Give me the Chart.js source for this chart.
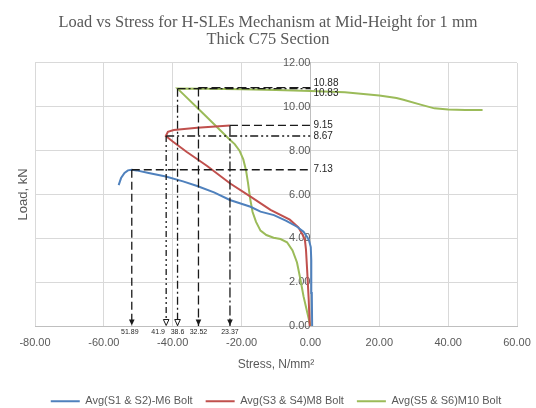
<!DOCTYPE html>
<html><head><meta charset="utf-8">
<script src="https://cdn.jsdelivr.net/npm/chart.js@4"></script>
<style>html,body{margin:0;padding:0;background:#fff}</style>
</head><body>
<canvas id="c" width="536" height="408"></canvas>
<script>
// ---- data ----
const titleLines = ['Load vs Stress for H-SLEs Mechanism at Mid-Height for 1 mm', 'Thick C75 Section'];
const seriesNames = ['Avg(S1 & S2)-M6 Bolt', 'Avg(S3 & S4)M8 Bolt', 'Avg(S5 & S6)M10 Bolt'];
const xAxisTitle = 'Stress, N/mm²';
const yAxisTitle = 'Load, kN';

const stressM6 = [0.5, 0.4, 0.25, 0.1, -0.4, -0.9, -2.0, -3.9, -7.0, -10.6, -14.5, -17.4, -20.5, -23.4, -28.0, -32.9, -37.0, -42.0, -47.0, -50.5, -51.89, -53.0, -54.0, -55.0, -55.7];
const loadM6   = [0, 1.5, 3.0, 3.6, 3.9, 4.05, 4.3, 4.53, 4.8, 5.06, 5.22, 5.44, 5.6, 5.75, 6.1, 6.39, 6.6, 6.82, 6.98, 7.1, 7.13, 7.1, 6.98, 6.75, 6.43];

const stressM8 = [-0.2, -0.5, -0.9, -1.3, -1.6, -2.4, -3.5, -6.0, -11.6, -17.4, -23.3, -30.0, -36.0, -40.0, -42.0, -41.4, -39.7, -32.9, -23.37];
const loadM8   = [0, 1.2, 2.4, 3.5, 3.92, 4.2, 4.5, 4.85, 5.3, 5.9, 6.5, 7.3, 7.95, 8.42, 8.67, 8.86, 8.94, 9.04, 9.15];

const stressM10 = [0, -0.9, -2.0, -3.0, -3.9, -5.2, -6.8, -8.7, -10.7, -12.8, -14.5, -15.8, -16.8, -17.5, -18.1, -18.7, -19.5, -20.6, -22.0, -23.4, -31.0, -38.6, -30.0, -20.0, -10.0, 0, 10, 20, 25, 27, 32, 36, 40, 45, 50];
const loadM10   = [0, 0.6, 1.35, 2.2, 2.9, 3.45, 3.82, 3.97, 4.03, 4.15, 4.35, 4.75, 5.2, 5.8, 6.5, 7.1, 7.6, 8.0, 8.3, 8.5, 9.67, 10.83, 10.82, 10.8, 10.77, 10.72, 10.66, 10.52, 10.4, 10.32, 10.1, 9.93, 9.88, 9.86, 9.86];

// marked peak values (stress, load)
const markStress = [-51.89, -41.9, -38.6, -32.52, -23.37];
const markLoad   = [7.13, 8.67, 10.83, 10.88, 9.15];

const xMin = -80, xMax = 60, xStep = 20;
const yMin = 0, yMax = 12, yStep = 2;

// ---- styles ----
const seriesColors = ['#4F81BD', '#C0504D', '#9BBB59'];
const markStyles = [
  {h: [8, 4], v: [8, 4], hollow: false, lx: -2, ly: 0},
  {h: [8, 3, 2, 3, 2, 3], v: [6, 3, 2, 3, 2, 3], hollow: true, lx: -8, ly: 0},
  {h: [8, 3, 2, 3], v: [8, 3, 2, 3], hollow: true, lx: 0, ly: 5},
  {h: [9, 4], v: [9, 4], hollow: false, lx: 0, ly: -4},
  {h: [8, 4], v: [10, 3, 2, 3], hollow: false, lx: 0, ly: 0}
];
const FONT = 'Liberation Sans';
const GREY = '#595959';

const toXY = (xs, ys) => xs.map((v, i) => ({x: v, y: ys[i]}));

const datasets = [
  {label: seriesNames[0], data: toXY(stressM6, loadM6)},
  {label: seriesNames[1], data: toXY(stressM8, loadM8)},
  {label: seriesNames[2], data: toXY(stressM10, loadM10)}
].map((d, i) => Object.assign(d, {
  showLine: true, borderColor: seriesColors[i], backgroundColor: seriesColors[i],
  borderWidth: 2, pointRadius: 0, tension: 0, order: 2
}));

markStress.forEach((s, i) => {
  datasets.push({
    label: 'h' + i, data: [{x: s, y: markLoad[i]}, {x: 0, y: markLoad[i]}],
    showLine: true, borderColor: '#1a1a1a', borderWidth: 1.3, borderDash: markStyles[i].h,
    pointRadius: 0, order: 1
  });
  datasets.push({
    label: 'v' + i, data: [{x: s, y: markLoad[i]}, {x: s, y: 0}],
    showLine: true, borderColor: '#1a1a1a', borderWidth: 1.3, borderDash: markStyles[i].v,
    pointRadius: 0, order: 1
  });
});

const markPlugin = {
  id: 'marks',
  afterDatasetsDraw(chart) {
    const {ctx, scales: {x, y}} = chart;
    const py0 = y.getPixelForValue(0);
    const px0 = x.getPixelForValue(0);
    ctx.save();
    markStress.forEach((s, i) => {
      const st = markStyles[i];
      const px = x.getPixelForValue(s);
      ctx.beginPath();
      ctx.moveTo(px, py0 - 0.5);
      ctx.lineTo(px - 2.8, py0 - 6.5);
      ctx.lineTo(px + 2.8, py0 - 6.5);
      ctx.closePath();
      if (st.hollow) { ctx.fillStyle = '#fff'; ctx.fill(); ctx.strokeStyle = '#1a1a1a'; ctx.lineWidth = 1; ctx.stroke(); }
      else { ctx.fillStyle = '#1a1a1a'; ctx.fill(); }
      ctx.fillStyle = '#262626';
      ctx.font = '7px ' + FONT;
      ctx.textAlign = 'center';
      ctx.textBaseline = 'middle';
      ctx.fillText(String(Math.abs(s)), px + st.lx, py0 + 6.5);
      ctx.font = '10px ' + FONT;
      ctx.textAlign = 'left';
      ctx.fillText(String(markLoad[i]), px0 + 3, y.getPixelForValue(markLoad[i]) + st.ly);
    });
    ctx.restore();
  }
};

new Chart(document.getElementById('c'), {
  type: 'scatter',
  data: {datasets},
  plugins: [markPlugin],
  options: {
    responsive: false, animation: false, devicePixelRatio: 1,
    layout: {padding: {left: 0, right: 0, top: 0, bottom: -8.7}},
    plugins: {
      tooltip: {enabled: false},
      title: {display: true, text: titleLines, color: GREY,
        font: {family: 'Liberation Serif', size: 16.4, weight: 'normal', lineHeight: 1.073},
        padding: {top: 13.7, bottom: 14.1}},
      legend: {position: 'bottom', fullSize: false,
        labels: {usePointStyle: true, pointStyle: 'line', pointStyleWidth: 29, padding: 13,
          color: GREY, font: {family: FONT, size: 11},
          filter: item => item.datasetIndex < 3}}
    },
    scales: {
      x: {type: 'linear', min: xMin, max: xMax,
        ticks: {stepSize: xStep, callback: v => v.toFixed(2), color: GREY, font: {family: FONT, size: 11}, padding: 5, maxRotation: 0, autoSkip: false},
        grid: {color: '#d9d9d9', drawTicks: true, tickLength: 5, tickColor: 'rgba(0,0,0,0)'}, border: {color: '#bfbfbf'},
        title: {display: true, text: xAxisTitle, color: GREY, font: {family: FONT, size: 12}, padding: {top: 4, bottom: 11}},
        afterFit: s => { s.height = 56.7; }},
      y: {type: 'linear', min: yMin, max: yMax, position: {x: 0},
        ticks: {stepSize: yStep, callback: v => v.toFixed(2), color: GREY, font: {family: FONT, size: 11}, padding: 7},
        grid: {color: '#d9d9d9', drawTicks: false}, border: {color: '#bfbfbf'}},
      yT: {type: 'linear', position: 'left', grid: {display: false, drawTicks: false}, border: {display: false},
        ticks: {display: false},
        title: {display: true, text: yAxisTitle, color: GREY, font: {family: FONT, size: 13}, padding: {top: 15.2, bottom: 4}},
        afterFit: s => { s.width = 35; }},
      yR: {type: 'linear', position: 'right', grid: {display: false, drawTicks: false}, border: {display: false},
        ticks: {display: false},
        afterFit: s => { s.width = 19; }}
    }
  }
});
</script>
</body></html>
